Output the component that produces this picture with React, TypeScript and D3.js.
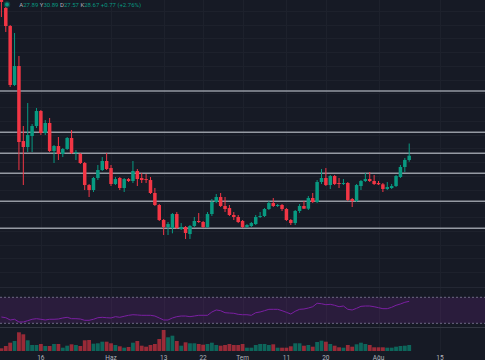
import * as d3 from "d3";

// daily candles, 7 May -> 8 Aug
const opens = [
  64.25, 55.53, 52.25, 41.53, 44.98, 31.34, 30.25, 32.25, 34.07, 36.8,
  32.8, 34.62, 29.53, 30.43, 28.98, 29.89, 31.89, 29.16, 28.98, 27.34,
  23.34, 22.43, 24.62, 26.07, 27.71, 26.43, 23.53, 24.62, 22.8, 24.43,
  24.07, 25.89, 24.62, 24.43, 24.25, 21.89, 19.71, 16.98, 15.71, 15.53,
  18.07, 15.34, 15.71, 14.43, 15.89, 16.8, 16.62, 15.71, 18.07, 20.25,
  21.16, 19.53, 19.16, 17.89, 17.53, 16.8, 15.71, 15.89, 16.25, 17.53,
  17.71, 18.98, 20.07, 19.53, 19.71, 18.98, 16.98, 16.43, 18.62, 19.53,
  19.04, 20.98, 20.25, 23.89, 24.62, 23.34, 24.98, 23.71, 23.53, 23.71,
  20.8, 20.43, 23.16, 24.07, 24.43, 24.07, 23.71, 23.47, 22.62, 22.8,
  23.16, 24.8, 26.62, 27.89,
];
const highs = [
  65.0, 55.71, 52.43, 50.98, 46.8, 34.07, 38.25, 34.43, 37.34, 36.98,
  35.16, 35.53, 30.62, 32.07, 30.07, 32.07, 33.34, 29.71, 29.16, 27.53,
  23.53, 24.8, 26.98, 28.43, 29.16, 26.98, 24.8, 24.8, 24.62, 24.62,
  27.71, 26.25, 25.53, 25.34, 24.8, 22.8, 19.89, 17.16, 16.62, 18.25,
  18.43, 16.43, 15.89, 16.07, 17.53, 18.25, 16.8, 18.43, 20.8, 21.71,
  21.89, 21.16, 19.71, 18.43, 17.89, 16.98, 16.25, 16.62, 17.89, 18.43,
  19.16, 20.43, 20.98, 19.89, 19.89, 19.16, 17.16, 18.8, 19.89, 20.43,
  21.34, 21.89, 24.25, 26.25, 26.43, 25.16, 25.16, 24.62, 24.43, 23.89,
  20.98, 23.53, 24.25, 25.53, 25.71, 25.16, 24.07, 23.71, 23.89, 23.53,
  25.16, 26.98, 28.25, 30.89,
];
const lows = [
  53.89, 51.16, 41.16, 41.34, 26.07, 23.34, 29.34, 29.34, 33.71, 32.43,
  32.43, 29.34, 27.34, 27.89, 28.43, 29.71, 28.98, 27.89, 27.16, 22.43,
  21.16, 22.07, 24.25, 25.89, 26.07, 23.16, 23.34, 22.43, 22.07, 23.89,
  23.71, 23.16, 23.71, 23.71, 21.71, 19.53, 16.8, 14.25, 14.25, 14.56,
  15.34, 15.16, 13.53, 13.53, 15.71, 16.43, 15.53, 15.53, 17.71, 20.07,
  19.34, 18.43, 17.71, 16.98, 16.43, 15.53, 15.53, 15.71, 16.07, 17.34,
  17.53, 18.8, 19.34, 19.34, 18.62, 16.8, 16.07, 16.07, 18.25, 18.98,
  18.8, 20.07, 20.07, 23.53, 23.16, 22.62, 23.34, 22.8, 23.34, 20.43,
  19.34, 20.25, 22.43, 23.89, 23.89, 23.34, 23.34, 22.07, 22.43, 22.62,
  22.98, 24.62, 25.71, 27.57,
];
const closes = [
  56.62, 52.25, 41.53, 44.98, 31.16, 30.25, 32.43, 34.07, 36.8, 32.8,
  34.62, 29.53, 30.43, 28.98, 29.89, 31.89, 29.16, 29.34, 27.34, 23.34,
  22.43, 24.62, 26.07, 27.71, 26.25, 23.53, 24.43, 22.8, 24.43, 24.07,
  25.89, 24.43, 24.25, 24.25, 21.89, 19.71, 16.98, 15.71, 16.25, 18.07,
  15.53, 15.71, 14.62, 15.89, 16.8, 16.62, 15.71, 18.07, 20.25, 21.16,
  19.53, 18.98, 17.89, 17.53, 16.62, 15.71, 16.07, 16.43, 17.53, 17.71,
  18.98, 20.07, 19.53, 19.71, 18.98, 16.98, 16.43, 18.62, 19.53, 19.04,
  20.98, 20.25, 23.89, 24.62, 23.34, 24.98, 23.53, 23.53, 23.71, 20.62,
  20.43, 23.34, 24.07, 24.43, 24.07, 23.53, 23.47, 22.62, 22.98, 23.16,
  24.98, 26.62, 27.9, 28.67,
];
const volumes = [
  270, 500, 830, 1000, 1870, 1670, 1070, 600, 600, 700,
  500, 500, 700, 700, 330, 530, 670, 600, 500, 1070,
  1100, 730, 770, 930, 930, 770, 600, 470, 330, 400,
  830, 1000, 530, 430, 600, 700, 1200, 2100, 1370, 1530,
  1000, 530, 870, 770, 770, 700, 630, 700, 830, 600,
  530, 600, 700, 600, 600, 700, 330, 330, 600, 700,
  700, 600, 670, 330, 330, 330, 470, 770, 770, 530,
  600, 430, 900, 1030, 930, 700, 530, 370, 330, 600,
  430, 670, 830, 700, 600, 370, 370, 370, 330, 330,
  430, 500, 530, 600,
];
const rsi = [
  39.7, 38.6, 35.1, 36.2, 32.0, 32.0, 34.0, 36.2, 37.1, 36.2,
  35.1, 36.2, 36.2, 36.6, 38.2, 39.2, 37.1, 37.1, 36.6, 34.6,
  34.6, 36.2, 38.6, 39.2, 38.6, 38.2, 40.2, 39.2, 40.8, 42.3,
  43.2, 42.8, 42.3, 42.3, 42.3, 41.2, 38.2, 35.1, 35.1, 38.2,
  40.2, 41.2, 41.2, 40.2, 41.2, 42.3, 42.3, 42.3, 47.4, 50.5,
  49.4, 46.3, 45.8, 45.4, 43.8, 43.2, 43.2, 42.3, 46.3, 47.4,
  49.4, 51.5, 51.5, 51.5, 49.4, 46.9, 44.3, 48.5, 51.5, 52.0,
  53.5, 55.5, 60.8, 60.1, 58.6, 59.2, 57.7, 55.5, 56.6, 51.5,
  50.5, 53.1, 56.1, 56.6, 56.6, 55.5, 54.0, 52.5, 52.5, 54.6,
  57.7, 59.7, 62.3, 63.8,
];
const levels = [40.43, 32.93, 29.11, 25.47, 20.38, 15.47];
const tickDates = ["2023-05-16", "2023-06-01", "2023-06-13", "2023-06-22", "2023-07-01", "2023-07-11", "2023-07-20", "2023-08-01", "2023-08-15"];
const tickLabels = ["16", "Haz", "13", "22", "Tem", "11", "20", "Ağu", "15"];

const width = 485;
const height = 360;
const up = "#089981";
const down = "#f23645";
const bg = "#161a25";
const font = "Roboto, sans-serif";

const start = new Date(Date.UTC(2023, 4, 7));
const days = d3.utcDay.range(start, d3.utcDay.offset(start, opens.length));

export default function App() {
  const x = d3.scaleUtc([start, new Date(Date.UTC(2023, 7, 15))], [1.4, 439.9]);
  const y = d3.scaleLinear([6, 57], [280.4, -0.1]);
  const yVol = d3.scaleLinear([0, 2500], [351, 326]);
  const yRsi = d3.scaleLinear([30, 70], [323.3, 297.3]);
  const rsiLine = d3.line<number>((d, i) => x(days[i]), (d) => yRsi(d));
  const bodyW = 3.5;
  const volW = 3.8;
  const ticks = tickDates.map((d) => new Date(d + "T00:00:00Z"));

  return (
    <svg width={width} height={height} style={{ position: "fixed", left: 0, top: 0, background: bg }}>
      <rect width={width} height={height} fill={bg} />
      <defs>
        <clipPath id="main">
          <rect x={0} y={0} width={width} height={287} />
        </clipPath>
      </defs>

      {/* grid */}
      <g stroke="#1d212c" strokeWidth={1} shapeRendering="crispEdges">
        {ticks.map((t, i) => (
          <line key={i} x1={Math.round(x(t)) + 0.5} x2={Math.round(x(t)) + 0.5} y1={0} y2={351} />
        ))}
        {d3.range(7.5, 57, 2.5).map((p) => (
          <line key={p} x1={0} x2={width} y1={Math.round(y(p)) + 0.5} y2={Math.round(y(p)) + 0.5} />
        ))}
      </g>

      {/* horizontal levels */}
      <g stroke="#959aa3" strokeWidth={1.4}>
        {levels.map((p) => (
          <line key={p} x1={0} x2={width} y1={y(p)} y2={y(p)} />
        ))}
      </g>

      {/* candles */}
      <g clipPath="url(#main)">
        {days.map((d, i) => {
          const c = closes[i] >= opens[i] ? up : down;
          const cx = x(d);
          const top = y(Math.max(opens[i], closes[i]));
          const bot = y(Math.min(opens[i], closes[i]));
          return (
            <g key={i}>
              <line x1={cx} x2={cx} y1={y(highs[i])} y2={y(lows[i])} stroke={c} strokeWidth={1} />
              <rect x={cx - bodyW / 2} y={top} width={bodyW} height={Math.max(1, bot - top)} fill={c} />
            </g>
          );
        })}
      </g>

      {/* pane separators */}
      <line x1={0} x2={width} y1={287.5} y2={287.5} stroke="#232733" strokeWidth={1} />
      <line x1={0} x2={width} y1={327.5} y2={327.5} stroke="#343844" strokeWidth={1} />

      {/* RSI pane */}
      <rect x={0} y={yRsi(70)} width={width} height={yRsi(30) - yRsi(70)} fill="rgba(150,45,180,0.16)" />
      <g stroke="#6f6a85" strokeWidth={1} strokeDasharray="2,2">
        <line x1={0} x2={width} y1={yRsi(70)} y2={yRsi(70)} />
        <line x1={0} x2={width} y1={yRsi(30)} y2={yRsi(30)} />
      </g>
      <path d={rsiLine(rsi) ?? ""} fill="none" stroke="#7b1fa2" strokeWidth={1} />

      {/* volume */}
      <g>
        {days.map((d, i) => (
          <rect
            key={i}
            x={x(d) - volW / 2}
            y={yVol(volumes[i])}
            width={volW}
            height={yVol(0) - yVol(volumes[i])}
            fill={closes[i] >= opens[i] ? "rgba(8,153,129,0.6)" : "rgba(242,54,69,0.6)"}
          />
        ))}
      </g>

      {/* x axis labels */}
      <g fontFamily={font} fontSize={6.5} fill="#b2b5be" textAnchor="middle">
        {ticks.map((t, i) => (
          <text key={i} x={x(t)} y={359.5}>
            {tickLabels[i]}
          </text>
        ))}
      </g>

      {/* legend */}
      <circle cx={7} cy={4.5} r={3.2} fill="rgba(8,153,129,0.35)" />
      <circle cx={7} cy={4.5} r={1.9} fill={up} />
      <text x={19.3} y={6.8} fontFamily={font} fontSize={6} fill={up}>
        <tspan fill="#b2b5be">A</tspan>27.89 <tspan fill="#b2b5be">Y</tspan>30.89{" "}
        <tspan fill="#b2b5be">D</tspan>27.57 <tspan fill="#b2b5be">K</tspan>28.67 +0.77 (+2.76%)
      </text>
    </svg>
  );
}
